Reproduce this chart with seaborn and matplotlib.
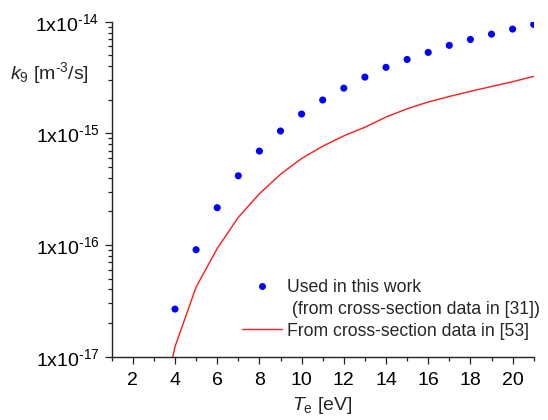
import numpy as np
import pandas as pd
import matplotlib
matplotlib.use("Agg")
import matplotlib.pyplot as plt
import seaborn as sns
from matplotlib.ticker import FixedLocator, MultipleLocator, FuncFormatter, NullFormatter
from matplotlib.lines import Line2D

# ---- data ----
te_used = [4, 5, 6, 7, 8, 9, 10, 11, 12, 13, 14, 15, 16, 17, 18, 19, 20, 21]
k9_used = [2.67e-17, 9.08e-17, 2.16e-16, 4.17e-16, 6.94e-16, 1.05e-15, 1.49e-15,
           1.99e-15, 2.54e-15, 3.19e-15, 3.90e-15, 4.59e-15, 5.31e-15, 6.14e-15,
           6.93e-15, 7.74e-15, 8.59e-15, 9.46e-15]
te_ref = [3.85, 4, 5, 6, 7, 8, 9, 10, 11, 12, 13, 14, 15, 16, 17, 18, 19, 20, 21]
k9_ref = [9.0e-18, 1.23e-17, 4.2e-17, 9.3e-17, 1.77e-16, 2.88e-16, 4.3e-16, 5.96e-16,
          7.67e-16, 9.5e-16, 1.135e-15, 1.40e-15, 1.66e-15, 1.91e-15, 2.14e-15,
          2.38e-15, 2.63e-15, 2.90e-15, 3.24e-15]
y_major = [1e-17, 1e-16, 1e-15, 1e-14]
x_major = [2, 4, 6, 8, 10, 12, 14, 16, 18, 20]
label_used = ["Used in this work", " (from cross-section data in [31])"]
label_ref = "From cross-section data in [53]"

sns.set_style("ticks")
plt.rcParams["font.family"] = ["Liberation Sans", "DejaVu Sans"]
plt.rcParams["mathtext.fontset"] = "custom"
plt.rcParams["mathtext.rm"] = "Liberation Sans"
plt.rcParams["mathtext.it"] = "Liberation Sans:italic"
plt.rcParams["mathtext.bf"] = "Liberation Sans:bold"
plt.rcParams["axes.unicode_minus"] = False

W, H = 548, 420
fig = plt.figure(figsize=(W / 100, H / 100), dpi=100)
L, R, T, B = 111.7, 533.7, 21.7, 356.7
ax = fig.add_axes([L / W, 1 - B / H, (R - L) / W, (B - T) / H])

df_used = pd.DataFrame({"Te": te_used, "k9": k9_used})
df_ref = pd.DataFrame({"Te": te_ref, "k9": k9_ref})

sns.lineplot(data=df_ref, x="Te", y="k9", ax=ax, color="#ff1a1a", linewidth=1.0,
             estimator=None, sort=False)
sns.scatterplot(data=df_used, x="Te", y="k9", ax=ax, color="#0000ff", s=26,
                edgecolor="none", linewidth=0, zorder=3)

ax.set_yscale("log")
ax.set_xlim(1, 21)
ax.set_ylim(1e-17, 1e-14)

ax.xaxis.set_major_locator(FixedLocator(x_major))
ax.xaxis.set_minor_locator(MultipleLocator(1))
ax.yaxis.set_major_locator(FixedLocator(y_major))
minor = [m * 10.0 ** e for e in (-17, -16, -15) for m in range(2, 10)]
ax.yaxis.set_minor_locator(FixedLocator(minor))
ax.yaxis.set_minor_formatter(NullFormatter())


def yfmt(v, pos):
    e = int(round(np.log10(v)))
    return r"1x10$^{\text{%d}}$" % e


ax.yaxis.set_major_formatter(FuncFormatter(yfmt))
ax.xaxis.set_major_formatter(FuncFormatter(lambda v, p: "%d" % v))

ax.tick_params(axis="both", which="major", direction="out", length=5, width=0.9,
               labelsize=14, color="#222222", labelcolor="black")
ax.tick_params(axis="both", which="minor", direction="out", length=3, width=0.9,
               color="#222222")
ax.tick_params(axis="y", which="major", pad=4)
ax.tick_params(axis="x", which="major", pad=6)

for s in ("top", "right"):
    ax.spines[s].set_visible(False)
for s in ("left", "bottom"):
    ax.spines[s].set_linewidth(1.0)
    ax.spines[s].set_color("#222222")

ax.set_xlabel(r"$\mathit{T}_{\mathrm{e}}$ [eV]", fontsize=14)
ax.xaxis.set_label_coords(0.5, (B - 405) / (B - T))
ax.xaxis.label.set_va("center")

ax.set_ylabel(r"$\mathit{k}_{\mathrm{9}}$ [m$^{\text{-3}}$/s]", fontsize=14,
              rotation=0, ha="left", va="center")
ax.yaxis.set_label_coords((10.5 - L) / (R - L), (B - 73) / (B - T))

handles = [
    Line2D([], [], marker="o", linestyle="none", color="#0000ff", markersize=5,
           markeredgewidth=0),
    Line2D([], [], linestyle="none"),
    Line2D([], [], color="#ff1a1a", linewidth=1.0),
]
labels = [label_used[0], label_used[1], label_ref]
leg = ax.legend(handles=handles, labels=labels, loc="upper left",
                bbox_to_anchor=(241.7 / W, 1 - 279 / H), bbox_transform=fig.transFigure,
                frameon=False, borderpad=0, borderaxespad=0, handlelength=2.26,
                handletextpad=0.32, labelspacing=0.27, fontsize=12.7)

fig.savefig("out.png", dpi=100)
